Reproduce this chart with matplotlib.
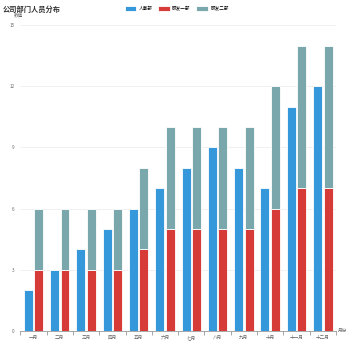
import numpy as np
import matplotlib.pyplot as plt

plt.rcParams['font.family'] = ['Noto Sans CJK SC', 'DejaVu Sans']

# 数据
months = ["一月", "二月", "三月", "四月", "五月", "六月", "七月", "八月", "九月", "十月", "十一月", "十二月"]
hr = [2, 3, 4, 5, 6, 7, 8, 9, 8, 7, 11, 12]
rd1 = [3, 3, 3, 3, 4, 5, 5, 5, 5, 6, 7, 7]
rd2 = [3, 3, 3, 3, 4, 5, 5, 5, 5, 6, 7, 7]

c_hr = "#3498db"
c_rd1 = "#d63b37"
c_rd2 = "#79a7ab"

fig = plt.figure(figsize=(3.5, 3.5), dpi=100)
ax = fig.add_axes([0.058, 0.055, 0.902, 0.873])

x = np.arange(len(months))
w = 0.34
ax.bar(x - 0.2, hr, w, color=c_hr, edgecolor="white", linewidth=0.6, label="人事部", zorder=3)
ax.bar(x + 0.2, rd1, w, color=c_rd1, edgecolor="white", linewidth=0.6, label="研发一部", zorder=3)
ax.bar(x + 0.2, rd2, w, bottom=rd1, color=c_rd2, edgecolor="white", linewidth=0.6, label="研发二部", zorder=3)

ax.set_xlim(-0.5, len(months) - 0.5)
ax.set_ylim(0, 15)
ax.set_yticks([0, 3, 6, 9, 12, 15])
ax.set_xticks(x)
ax.set_xticklabels(months)
ax.set_xticks(np.arange(len(months) + 1) - 0.5, minor=True)
ax.tick_params(axis="x", which="major", length=0, labelsize=3.3, colors="#666666", pad=3)
ax.tick_params(axis="x", which="minor", length=3, color="#999999", width=0.6)
ax.tick_params(axis="y", length=0, labelsize=3.3, colors="#666666", pad=4)

ax.grid(axis="y", color="#eeeeee", linewidth=0.6, zorder=0)
for s in ["top", "right", "left"]:
    ax.spines[s].set_visible(False)
ax.spines["bottom"].set_color("#999999")
ax.spines["bottom"].set_linewidth(0.6)

fig.text(0.008, 0.975, "公司部门人员分布", fontsize=5.2, fontweight="bold", color="#333333", va="center")
fig.text(0.038, 0.957, "数值", fontsize=3.3, color="#666666", va="center")
fig.text(0.966, 0.056, "月份", fontsize=3.3, color="#666666", va="center")

fig.legend(loc="upper center", bbox_to_anchor=(0.505, 0.995), ncol=3, frameon=False,
           fontsize=3.3, handlelength=2.6, handleheight=1.4, columnspacing=1.2, handletextpad=0.5)

fig.savefig("out.png", dpi=100)
